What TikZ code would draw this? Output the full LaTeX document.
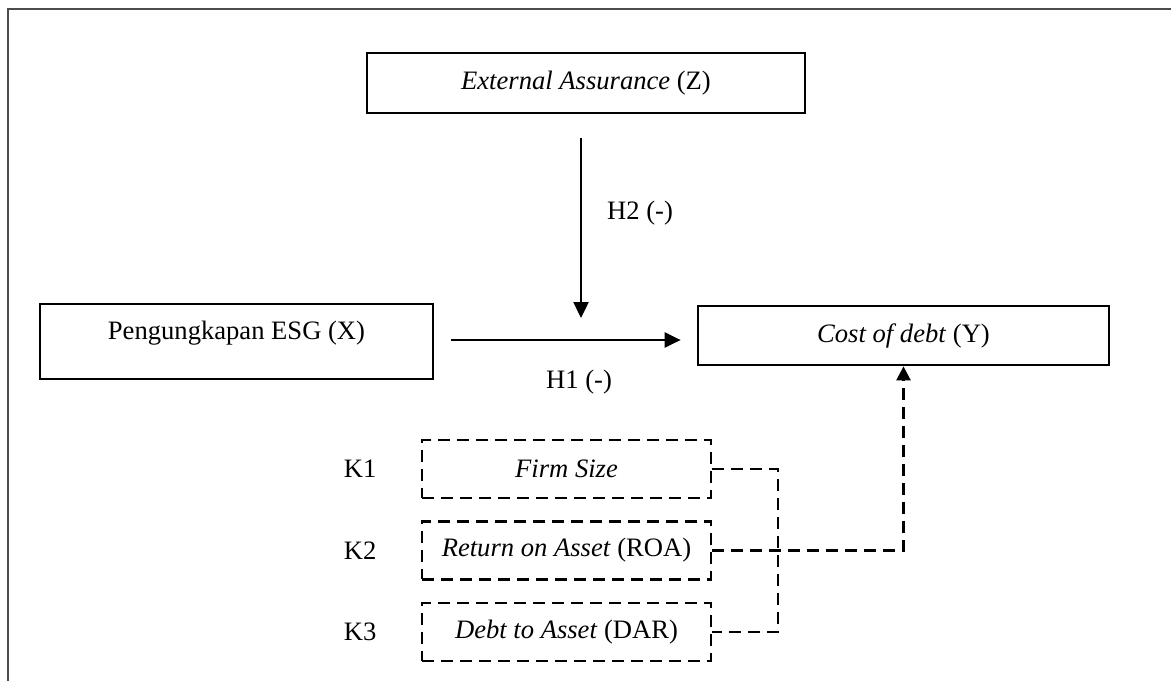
\documentclass[tikz,border=0pt]{standalone}
\usepackage{fontspec}
\setmainfont{Liberation Serif}
\usetikzlibrary{positioning, arrows.meta}

\begin{document}
\begin{tikzpicture}[x=0.5pt, y=-0.5pt, font=\fontsize{13.3}{16}\selectfont,
	varbox/.style={draw, line width=1.35pt, inner sep=0pt},
	ctrlbox/.style={draw, line width=1.2pt, dash pattern=on 6pt off 3.5pt,
		inner sep=0pt, minimum width=144.5pt, minimum height=29pt},
	ctrlline/.style={line width=1.2pt, dash pattern=on 6pt off 3.5pt},
	hyp/.style={line width=1.2pt, -{Triangle[length=8pt, width=7.5pt]}}]
	\useasboundingbox (0,0) rectangle (1171,681);
	
	% frame
	\draw[line width=1pt, black!70] (1171,9) -- (8,9) -- (8,681);
	
	\node[varbox, minimum width=219pt, minimum height=30pt] (ext) at (586,83)
		{\textit{External Assurance} (Z)};
	\node[varbox, minimum width=196.5pt, minimum height=37.5pt,
		text height=9pt, text depth=10.6pt] (esg) at (236.5,341.5)
		{Pengungkapan ESG (X)};
	\node[varbox, minimum width=205.5pt, minimum height=29.5pt] (cod) at (903.5,335.5)
		{\textit{Cost of debt} (Y)};
	
	% variabel kontrol
	\node[ctrlbox] (fsize) at (566.5,469) {\textit{Firm Size}};
	\node[ctrlbox, below=10.5pt of fsize] (roa) {\textit{Return on Asset} (ROA)};
	\node[ctrlbox, below=10.5pt of roa] (dar) {\textit{Debt to Asset} (DAR)};
	
	\node[left=22pt of fsize, inner sep=0pt] (k1) {K1};
	\node[left=22pt of roa, inner sep=0pt] (k2) {K2};
	\node[left=22pt of dar, inner sep=0pt] (k3) {K3};
	
	% hipotesis
	\coordinate (h1mid) at (581,340);
	\draw[hyp, shorten <=8.5pt, shorten >=8pt] (esg.east |- h1mid) -- (cod.west |- h1mid);
	\draw[hyp, shorten <=12pt, shorten >=11pt] (ext.south -| h1mid) -- (h1mid);
	
	\node (h1) at (579,382) {H1 (-)};
	\node (h2) at (640,213) {H2 (-)};
	
	\draw[ctrlline] (fsize.east) -- ++(33pt,0) |- (dar.east);
	\draw[ctrlline, -{Triangle[length=7pt, width=7pt]}] (roa.east) -| (cod.south);
\end{tikzpicture}
\end{document}
